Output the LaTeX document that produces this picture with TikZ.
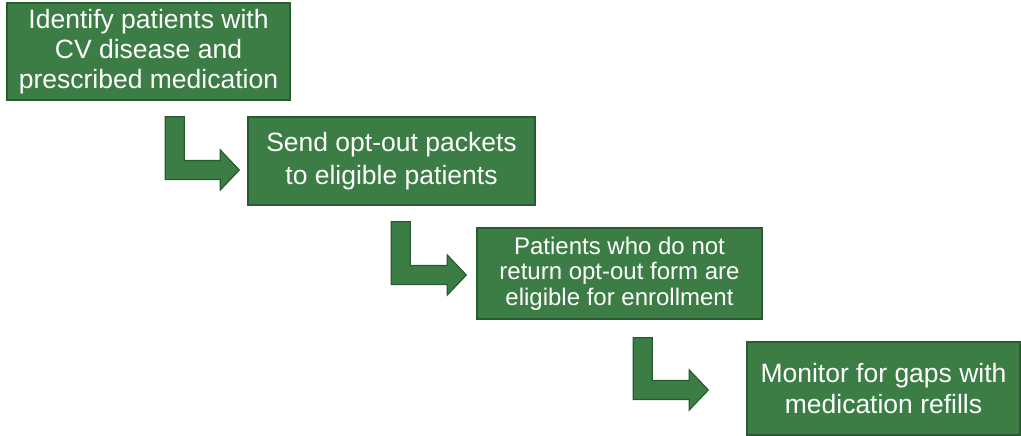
\documentclass[tikz,border=0pt]{standalone}
\usepackage{fontspec}
\setmainfont{Liberation Sans}
\usetikzlibrary{calc}

\definecolor{stagegreen}{RGB}{59,125,68}
\definecolor{edgegreen}{RGB}{40,92,48}

\tikzset{
    stage/.style = {draw=edgegreen, line width=1.4pt, fill=stagegreen,
                    text=white, align=center, inner sep=0pt,
                    font=\fontsize{26.5}{30}\selectfont},
    elbow/.style = {draw=edgegreen, line width=1.2pt, fill=stagegreen,
                    line join=miter}
}

% bent arrow: #1 = top left of stem, #2 = tip
\newcommand{\elbow}[2]{%
    \draw[elbow] let \p1 = (#1), \p2 = (#2) in
        (\x1,\y1) -- (\x1+19pt,\y1) -- (\x1+19pt,\y2+9.5pt)
        -- (\x2-19pt,\y2+9.5pt) -- (\x2-19pt,\y2+20pt) -- (\x2,\y2)
        -- (\x2-19pt,\y2-20pt) -- (\x2-19pt,\y2-9.5pt)
        -- (\x1,\y2-9.5pt) -- cycle;}

\begin{document}
\begin{tikzpicture}[x=1pt, y=-1pt]
    \useasboundingbox (0,0) rectangle (1021,436);

    \node (identify) [stage, minimum width=283pt, minimum height=97pt]
        at (148.5,51.5)
        {Identify patients with\\ CV disease and\\ prescribed medication};
    \node (send) [stage, minimum width=287pt, minimum height=88pt,
                  font=\fontsize{26.5}{33}\selectfont]
        at (391.5,161)
        {Send opt-out packets\\ to eligible patients};
    \node (enroll) [stage, minimum width=285pt, minimum height=91pt,
                    font=\fontsize{24}{25.5}\selectfont]
        at (619.5,273.5)
        {Patients who do not\\ return opt-out form are\\ eligible for enrollment};
    \node (monitor) [stage, minimum width=273pt, minimum height=93pt,
                     font=\fontsize{26.5}{31}\selectfont]
        at (883.5,388.5)
        {Monitor for gaps with\\ medication refills};

    % arrows between the stages
    \coordinate (s1) at ($(identify.south west)+(159pt,-16pt)$);
    \coordinate (t1) at ($(send.west)+(-8pt,-9pt)$);
    \coordinate (s2) at ($(send.south west)+(144pt,-16pt)$);
    \coordinate (t2) at ($(enroll.west)+(-10pt,-1.5pt)$);
    \coordinate (s3) at ($(enroll.south west)+(157pt,-18pt)$);
    \coordinate (t3) at ($(monitor.west)+(-38pt,-1.5pt)$);

    \elbow{s1}{t1}
    \elbow{s2}{t2}
    \elbow{s3}{t3}
\end{tikzpicture}
\end{document}
